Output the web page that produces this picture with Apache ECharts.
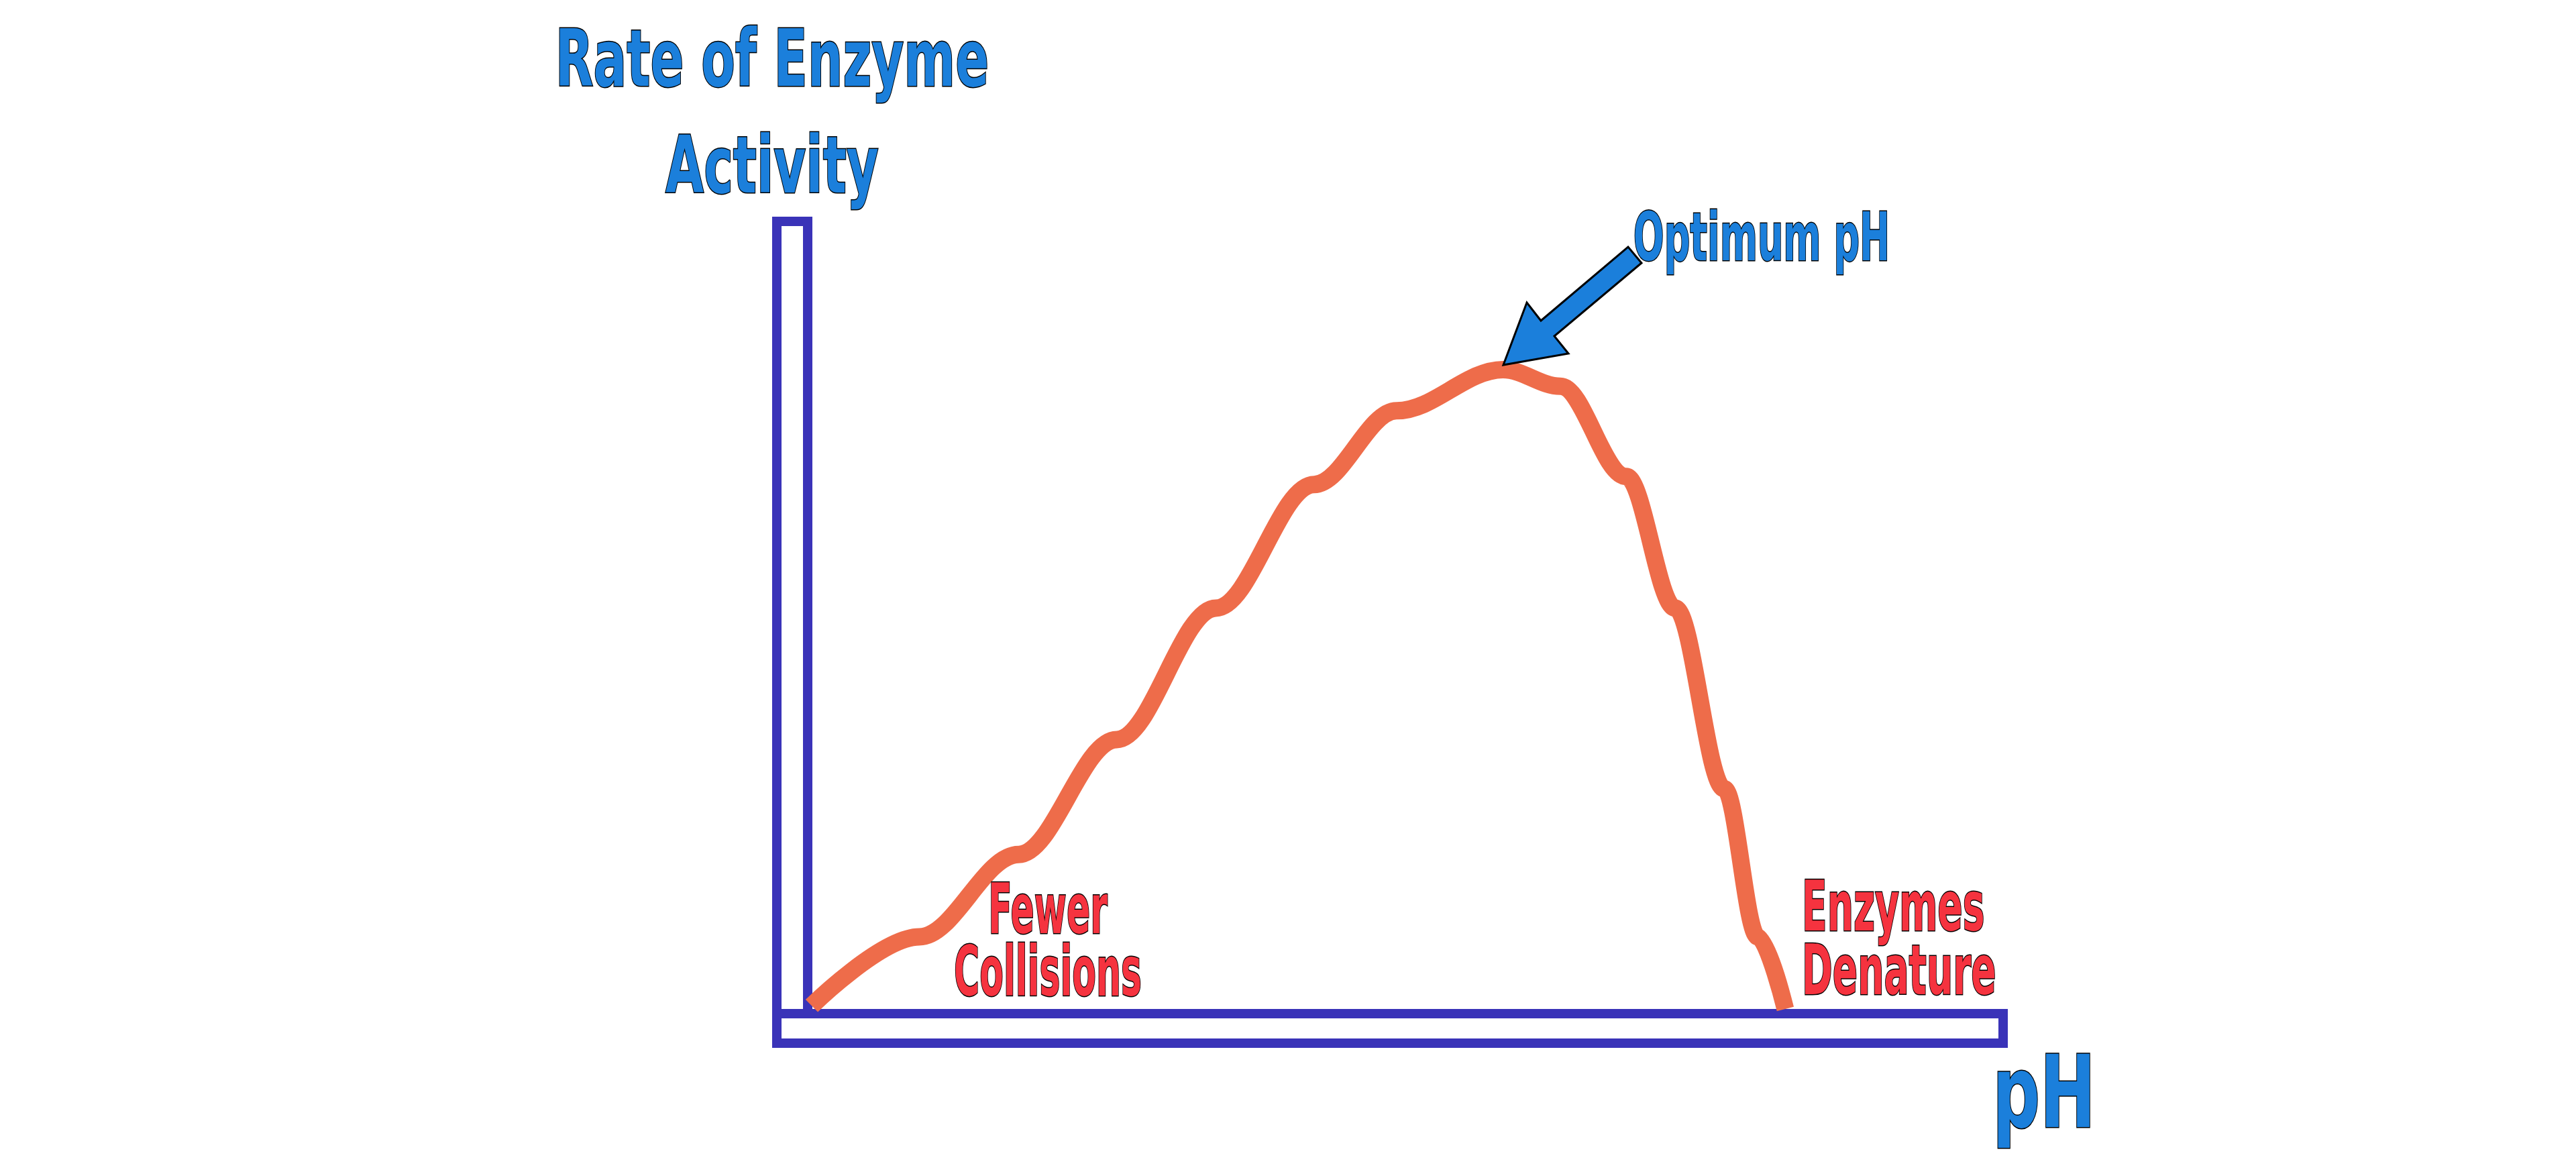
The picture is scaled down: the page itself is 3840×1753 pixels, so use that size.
<!DOCTYPE html>
<html><head><meta charset="utf-8">
<script src="https://cdn.jsdelivr.net/npm/echarts@6/dist/echarts.min.js"></script>
<style>html,body{margin:0;padding:0;background:#fff}#c{width:3840px;height:1753px}</style>
</head><body><div id="c"></div>
<script>
const phValues = [0, 9.0, 17.3, 25.5, 33.8, 42.0, 48.9, 57.8, 62.6, 68.1, 72.2, 76.3, 79.1, 81.4];
const rateValues = [0.4, 9.1, 19.5, 34.0, 50.6, 66.2, 75.5, 80.7, 78.6, 67.2, 50.6, 27.8, 9.1, 0];
const yTitle = ['Rate of Enzyme', 'Activity'];
const xTitle = 'pH';
const peakLabel = 'Optimum pH';
const leftLabel = ['Fewer', 'Collisions'];
const rightLabel = ['Enzymes', 'Denature'];

const font = '"DejaVu Sans", sans-serif';
function txt(text, x, y, size, sx, fill, align) {
  return {type:'text', z:5, x:x, y:y, scaleX:sx,
    style:{text:text, x:0, y:0, fontSize:size, fill:fill, stroke:'#000', lineWidth:3,
      fontFamily:font, fontWeight:'bold', textAlign:align, textVerticalAlign:'middle'}};
}
const BLUE = '#1B7FDB', RED = '#F5333F';
const chart = echarts.init(document.getElementById('c'));
const axisColor = '#3A33B8';
chart.setOption({
  animation:false,
  grid:{left:1210, right:847, top:323, bottom:249},
  xAxis:{type:'value', min:0, max:100, show:false},
  yAxis:{type:'value', min:0, max:100, show:false},
  graphic:[
    {type:'rect', z:1, shape:{x:1158,y:330,width:46,height:1225}, style:{fill:'#fff',stroke:axisColor,lineWidth:14}},
    {type:'rect', z:1, shape:{x:1158,y:1511,width:1828,height:44}, style:{fill:'#fff',stroke:axisColor,lineWidth:14}},
    txt(yTitle[0], 1151, 98, 117, 0.63, BLUE, 'center'),
    txt(yTitle[1], 1151, 257, 117, 0.63, BLUE, 'center'),
    txt(peakLabel, 2626, 362, 100, 0.54, BLUE, 'center'),
    txt(xTitle, 3047, 1641, 150, 0.66, BLUE, 'center'),
    txt(leftLabel[0], 1562, 1364, 104, 0.5, RED, 'center'),
    txt(leftLabel[1], 1562, 1457, 104, 0.5, RED, 'center'),
    txt(rightLabel[0], 2686, 1360, 104, 0.53, RED, 'left'),
    txt(rightLabel[1], 2686, 1455, 104, 0.53, RED, 'left'),
    {type:'polygon', z:6, shape:{points:[[2241,544],[2276,451],[2297,478],[2427,368],[2447,392],[2317,501],[2338,527]]}, style:{fill:BLUE,stroke:'#000',lineWidth:3}}
  ],
  series:[{
    type:'line', smooth:0.35, smoothMonotone:'x', symbol:'none', z:3,
    data: phValues.map((x,i)=>[x, rateValues[i]]),
    lineStyle:{color:'#EE6C4A', width:26}
  }]
});
</script></body></html>
